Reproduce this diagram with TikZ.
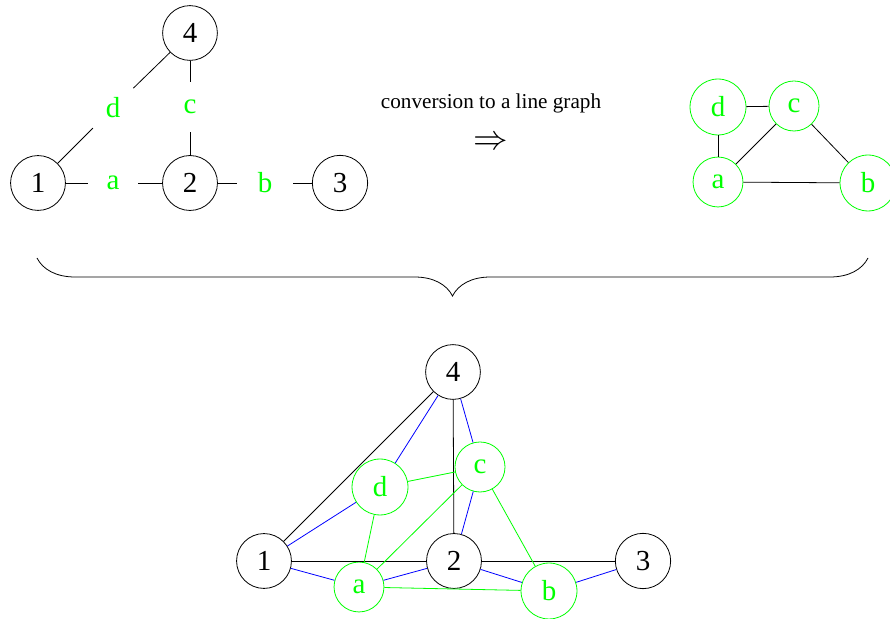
\documentclass[tikz,border=0pt]{standalone}
\usepackage{fontspec}
\setmainfont{Liberation Serif}
\usetikzlibrary{decorations.pathreplacing}
\begin{document}
\begin{tikzpicture}[x=0.5pt, y=-0.5pt,
    vert/.style={circle, draw=black, inner sep=5.5pt, font=\fontsize{14.5}{17}\selectfont},
    elab/.style={circle, inner sep=5.5pt, text=green, font=\fontsize{14.5}{17}\selectfont},
    lvert/.style={circle, draw=green, text=green, inner sep=5.5pt, font=\fontsize{14.5}{17}\selectfont},
    bedge/.style={blue},
    gedge/.style={green}
]
\useasboundingbox (0,0) rectangle (890,619);

%% original graph
\node[vert] (v1) at (38,183)  {1};
\node[vert] (v2) at (190,183) {2};
\node[vert] (v3) at (340,183) {3};
\node[vert] (v4) at (190,33)  {4};
\node[elab] (ea) at (113,183) {a};
\node[elab] (eb) at (265,183) {b};
\node[elab] (ec) at (190,107) {c};
\node[elab] (ed) at (113,108) {d};
\draw (v1) -- (ea) (ea) -- (v2);
\draw (v2) -- (eb) (eb) -- (v3);
\draw (v2) -- (ec) (ec) -- (v4);
\draw (v1) -- (ed) (ed) -- (v4);

%% conversion
\node[font=\fontsize{10.6}{13}\selectfont] (conv) at (491,103) {conversion to a line graph};
\node[font=\fontsize{17.5}{20}\selectfont] (impl) at (491,143) {$\Rightarrow$};

%% line graph
\node[lvert] (la) at (718,182) {a};
\node[lvert] (lb) at (868,183) {b};
\node[lvert] (lc) at (794,106) {c};
\node[lvert] (ld) at (718,107) {d};
\draw (ld) -- (lc);
\draw (ld) -- (la);
\draw (la) -- (lc);
\draw (lc) -- (lb);
\draw (la) -- (lb);

%% brace
\coordinate (bl) at (37,258);
\coordinate (br) at (868,258);
\draw[decorate, decoration={brace, mirror, amplitude=19pt}] (bl) -- (br);

%% both together
\node[vert] (w1) at (264,561) {1};
\node[vert] (w2) at (454,561) {2};
\node[vert] (w3) at (643,561) {3};
\node[vert] (w4) at (453,372) {4};
\node[lvert] (wa) at (359,587) {a};
\node[lvert] (wb) at (549,591) {b};
\node[lvert] (wc) at (480,467) {c};
\node[lvert] (wd) at (380,487) {d};
\draw (w1) -- (w2);
\draw (w2) -- (w3);
\draw (w4) -- (w2);
\draw (w1) -- (w4);
\draw[bedge] (w1) -- (wa) (wa) -- (w2);
\draw[bedge] (w2) -- (wb) (wb) -- (w3);
\draw[bedge] (w1) -- (wd) (wd) -- (w4);
\draw[bedge] (w4) -- (wc) (wc) -- (w2);
\draw[gedge] (wd) -- (wc);
\draw[gedge] (wd) -- (wa);
\draw[gedge] (wa) -- (wc);
\draw[gedge] (wc) -- (wb);
\draw[gedge] (wa) -- (wb);
\end{tikzpicture}
\end{document}
